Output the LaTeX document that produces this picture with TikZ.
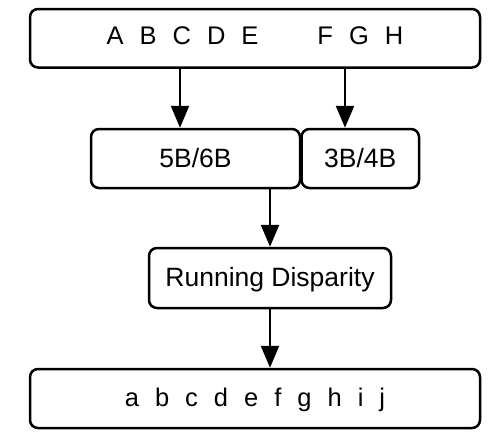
\documentclass[tikz,border=0pt]{standalone}
\usepackage{fontspec}
\setmainfont{Liberation Sans}
\usetikzlibrary{arrows.meta}
\newcommand\gp{\hspace{16pt}}
\tikzset{
  box/.style={draw, line width=2.5pt, rounded corners=8pt, inner sep=0pt,
    font=\fontsize{26.5pt}{32pt}\selectfont, text height=19pt, text depth=2pt},
  letters/.style={font=\fontsize{25.5pt}{30pt}\selectfont, text height=18.3pt},
  arr/.style={line width=2.5pt, -{Triangle[length=22pt,width=18pt]}}
}
\begin{document}
\begin{tikzpicture}[x=1pt,y=-1pt]
\useasboundingbox (0,0) rectangle (503,442);
\node[box, letters, minimum width=450pt, minimum height=58.5pt, text depth=6.8pt] (top) at (255,38.25)
  {A\gp B\gp C\gp D\gp E\hspace{59pt}F\gp G\gp H};
\node[box, minimum width=209pt, minimum height=59pt] (b56) at (195.5,158.5) {5B/6B};
\node[box, minimum width=117.5pt, minimum height=59pt] (b34) at (360.25,158.5) {3B/4B};
\node[box, minimum width=242pt, minimum height=60pt, text depth=3pt] (rd) at (270,278) {Running Disparity};
\node[box, letters, minimum width=450pt, minimum height=59pt, text depth=2.3pt] (bot) at (255,398.5)
  {a\gp b\gp c\gp d\gp e\gp f\gp g\gp h\gp i\gp j};
\draw[arr] ([xshift=-75pt]top.south) -- ([xshift=-15.5pt]b56.north);
\draw[arr] ([xshift=90pt]top.south) -- ([xshift=-15.25pt]b34.north);
\draw[arr] ([xshift=74.5pt]b56.south) -- (rd.north);
\draw[arr] (rd.south) -- ([xshift=15pt]bot.north);
\end{tikzpicture}
\end{document}
